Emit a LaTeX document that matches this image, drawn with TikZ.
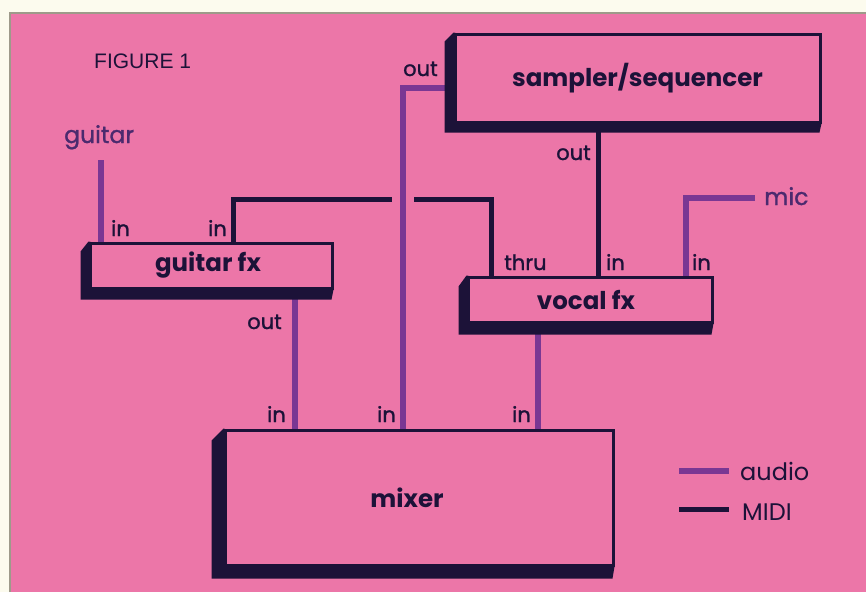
\documentclass[tikz,border=0pt]{standalone}
\usepackage{fontspec}
\setmainfont{Poppins}
\newfontfamily\portfont[FakeBold=1.2]{Poppins}
\newfontfamily\figfont{Liberation Sans}
\usetikzlibrary{calc}
\definecolor{pinkbg}{HTML}{EC76A8}
\definecolor{cream}{HTML}{FCFBEE}
\definecolor{navy}{HTML}{1C1238}
\definecolor{audioc}{HTML}{7A3793}
\definecolor{lblpurple}{HTML}{4B2A6E}
\definecolor{edgegray}{HTML}{9E9A8A}
\pgfdeclarelayer{bg}\pgfdeclarelayer{conn}\pgfdeclarelayer{shad}
\pgfsetlayers{bg,conn,shad,main}
\newcommand{\boxshade}[3]{%
  \begin{pgfonlayer}{shad}
    \fill[navy] (#1.north west) -- ++(-#2,#3) -- ($(#1.south west)+(-#2,#3)$)
      -- ($(#1.south east)+(-2,#3)$) -- (#1.south east) -- cycle;
  \end{pgfonlayer}}
\begin{document}
\begin{tikzpicture}[x=1pt,y=-1pt,
  boxnode/.style={draw=navy, line width=3pt, fill=pinkbg, text=navy, inner sep=0pt,
    font=\bfseries\fontsize{24.5}{28}\selectfont},
  midi/.style={draw=navy, line width=5pt},
  audio/.style={draw=audioc, line width=6pt},
  port/.style={font=\portfont\fontsize{21}{24}\selectfont, text=navy, inner sep=0pt},
  srclbl/.style={font=\portfont\fontsize{23.5}{26}\selectfont, text=lblpurple, inner sep=0pt},
  legtext/.style={font=\fontsize{24}{27}\selectfont, text=navy, inner sep=0pt, anchor=west},
]
\useasboundingbox (0,0) rectangle (866,592);
\begin{pgfonlayer}{bg}
  \fill[cream] (0,0) rectangle (866,592);
  \fill[pinkbg] (10,13) rectangle (866,592);
  \draw[edgegray, line width=1.2pt] (10,592) -- (10,13) -- (866,13);
\end{pgfonlayer}

% boxes
\node[boxnode, minimum width=365pt, minimum height=88pt] (ss) at (637.5,78) {sampler/sequencer};
\boxshade{ss}{9}{9}
\node[boxnode, minimum width=242pt, minimum height=45pt] (gfx) at (211,265.5) {\hspace*{-6pt}guitar fx};
\boxshade{gfx}{8}{10}
\node[boxnode, minimum width=244pt, minimum height=45pt] (vfx) at (590,299.5) {\hspace*{-8pt}vocal fx};
\boxshade{vfx}{8}{11}
\node[boxnode, minimum width=388pt, minimum height=135pt] (mix) at (419,497.5) {\hspace*{-24pt}\raisebox{-5pt}{mixer}};
\boxshade{mix}{12}{12}

% coordinates
\coordinate (guitarsrc) at (101,160);
\coordinate (xgm) at (233,0);
\coordinate (midiy) at (0,199);
\coordinate (gapL) at (392,199);
\coordinate (gapR) at (414,199);
\coordinate (xthru) at (491,0);
\coordinate (xso) at (598,0);
\coordinate (micsrc) at (755,198);
\coordinate (xmic) at (686,0);
\coordinate (ssaud) at ($(ss.west)+(0,10)$);
\coordinate (xsa) at (403,0);
\coordinate (xgo) at (295,0);
\coordinate (xvo) at (538,0);
\coordinate (la1) at (679,471);
\coordinate (la2) at (729,471);
\coordinate (lm1) at (679,509);
\coordinate (lm2) at (729,509);

\begin{pgfonlayer}{conn}
  \draw[audio] (guitarsrc) -- (guitarsrc |- gfx.north);
  \draw[midi] (xgm |- gfx.north) -- (xgm |- midiy) -- (gapL);
  \draw[midi] (gapR) -- (xthru |- midiy) -- (xthru |- vfx.north);
  \draw[midi] (xso |- ss.south) -- (xso |- vfx.north);
  \draw[audio] (micsrc) -- (xmic |- micsrc) -- (xmic |- vfx.north);
  \draw[audio] (ssaud) -| (xsa |- mix.north);
  \draw[audio] (xgo |- gfx.south) -- (xgo |- mix.north);
  \draw[audio] (xvo |- vfx.south) -- (xvo |- mix.north);
  \draw[audio] (la1) -- (la2);
  \draw[midi] (lm1) -- (lm2);
\end{pgfonlayer}

% labels
\node[font=\figfont\fontsize{21}{24}\selectfont, text=navy, inner sep=0pt, anchor=base west] (fig) at (94,68) {FIGURE 1};
\node[srclbl, anchor=base west] (lguitar) at (64,143) {guitar};
\node[srclbl, anchor=base west] (lmic) at (764,205) {mic};
\node[port, anchor=base west] (p1) at (111,236) {in};
\node[port, anchor=base east] (p2) at (227,236) {in};
\node[port, anchor=base west] (p3) at (504,270) {thru};
\node[port, anchor=base west] (p4) at (606,270) {in};
\node[port, anchor=base west] (p5) at (692,270) {in};
\node[port, anchor=base east] (p6) at (591,160) {out};
\node[port, anchor=base west] (p7) at (403,76) {out};
\node[port, anchor=base east] (p8) at (282,329) {out};
\node[port, anchor=base east] (p9) at (286,422) {in};
\node[port, anchor=base east] (p10) at (396,422) {in};
\node[port, anchor=base east] (p11) at (531,422) {in};
\node[legtext] (laud) at (740,471) {audio};
\node[legtext] (lmidi) at (742,512) {MIDI};
\end{tikzpicture}
\end{document}
